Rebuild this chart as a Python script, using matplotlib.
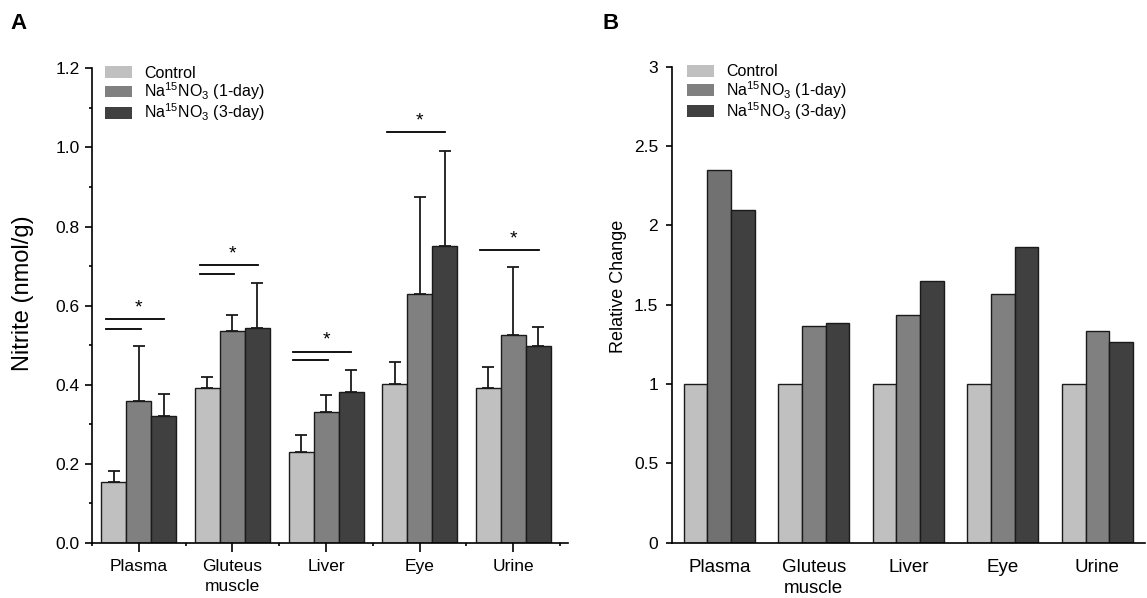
import numpy as np
import matplotlib
matplotlib.use('Agg')
import matplotlib.pyplot as plt
from matplotlib.ticker import MultipleLocator
from matplotlib.patches import Patch

plt.rcParams['font.family'] = ['Liberation Sans', 'DejaVu Sans']
plt.rcParams['mathtext.fontset'] = 'custom'
plt.rcParams['mathtext.rm'] = 'Liberation Sans'
plt.rcParams['mathtext.it'] = 'Liberation Sans:italic'
plt.rcParams['mathtext.bf'] = 'Liberation Sans:bold'

tissues = ['Plasma', 'Gluteus\nmuscle', 'Liver', 'Eye', 'Urine']
groups = ['Control', r'Na$^{\mathregular{15}}$NO$_{\mathregular{3}}$ (1-day)',
          r'Na$^{\mathregular{15}}$NO$_{\mathregular{3}}$ (3-day)']

# panel A: nitrite (nmol/g), mean and upper SD
ctrl_mean = [0.154, 0.392, 0.231, 0.402, 0.392]
ctrl_sd = [0.029, 0.027, 0.042, 0.055, 0.053]
day1_mean = [0.360, 0.537, 0.332, 0.630, 0.525]
day1_sd = [0.138, 0.039, 0.041, 0.244, 0.173]
day3_mean = [0.322, 0.543, 0.381, 0.750, 0.498]
day3_sd = [0.054, 0.113, 0.056, 0.242, 0.048]

# significance brackets: tissue index, upper line y, lower line y (None = single line)
sig_idx = [0, 1, 2, 3, 4]
sig_upper = [0.565, 0.702, 0.484, 1.038, 0.740]
sig_lower = [0.541, 0.681, 0.463, None, None]

# panel B: relative change
rel_ctrl = [1, 1, 1, 1, 1]
rel_day1 = [2.35, 1.368, 1.435, 1.567, 1.334]
rel_day3 = [2.096, 1.384, 1.647, 1.865, 1.265]

colors = ['#c0c0c0', '#808080', '#404040']

fig = plt.figure(figsize=(11.47, 5.98), dpi=100)

def legend_handles():
    return [Patch(facecolor=c, edgecolor='none') for c in colors]

# ---------------- panel A ----------------
axA = fig.add_axes([0.0802, 0.092, 0.4146, 0.7938])
x = np.arange(1, len(tissues) + 1)
w = 0.267
means = [ctrl_mean, day1_mean, day3_mean]
sds = [ctrl_sd, day1_sd, day3_sd]
for i in range(3):
    pos = x + (i - 1) * w
    axA.bar(pos, means[i], w, color=colors[i], edgecolor='#1a1a1a', linewidth=1.0, zorder=2)
    axA.errorbar(pos, means[i], yerr=[np.zeros(len(x)), sds[i]], fmt='none',
                 ecolor='#1a1a1a', elinewidth=1.3, capsize=4, capthick=1.3, zorder=3)

for k, idx in enumerate(sig_idx):
    c = x[idx]
    axA.plot([c - 0.35, c + 0.27], [sig_upper[k]] * 2, color='black', lw=1.3)
    if sig_lower[k] is not None:
        axA.plot([c - 0.35, c + 0.02], [sig_lower[k]] * 2, color='black', lw=1.3)
    axA.text(c, sig_upper[k] + 0.008, '*', ha='center', va='bottom', fontsize=14)

axA.set_xlim(0.5, 5.58)
axA.set_ylim(0, 1.2)
axA.set_xticks(x)
axA.set_xticklabels(tissues, fontsize=12.5, linespacing=1.45)
axA.xaxis.set_minor_locator(MultipleLocator(1, offset=0.5))
axA.set_yticks(np.arange(0, 1.21, 0.2))
axA.set_yticklabels(['%.1f' % v for v in np.arange(0, 1.21, 0.2)], fontsize=12.5)
axA.yaxis.set_minor_locator(MultipleLocator(0.1))
axA.tick_params(axis='x', which='major', length=6.5, width=1.2, pad=5)
axA.tick_params(axis='x', which='minor', length=2.5, width=1.2)
axA.tick_params(axis='y', which='major', length=5, width=1.2, pad=4)
axA.tick_params(axis='y', which='minor', length=2.5, width=1.2)
for s in ['top', 'right']:
    axA.spines[s].set_visible(False)
for s in ['left', 'bottom']:
    axA.spines[s].set_linewidth(1.2)
axA.set_ylabel('Nitrite (nmol/g)', fontsize=17)
axA.yaxis.set_label_coords(-0.122, 0.527)
axA.legend(legend_handles(), groups, loc='upper left', bbox_to_anchor=(0.028, 1.005),
           frameon=False, fontsize=11.5, handlelength=1.7, handleheight=0.75,
           handletextpad=0.75, labelspacing=-0.03, borderpad=0, borderaxespad=0)

# ---------------- panel B ----------------
axB = fig.add_axes([0.5859, 0.0925, 0.412, 0.796])
wB = 0.25
rel = [rel_ctrl, rel_day1, rel_day3]
for i in range(3):
    pos = x + (i - 1) * wB
    axB.bar(pos, rel[i], wB, color=colors[i], edgecolor='#1a1a1a', linewidth=1.0, zorder=2)
axB.containers[1][0].set_facecolor('#717171')

axB.set_xlim(0.5, 5.5)
axB.set_ylim(0, 3)
axB.set_xticks(x)
axB.set_xticklabels(tissues, fontsize=13.5, linespacing=1.3)
axB.set_yticks([0, 0.5, 1, 1.5, 2, 2.5, 3])
axB.set_yticklabels(['0', '0.5', '1', '1.5', '2', '2.5', '3'], fontsize=12.5)
axB.tick_params(axis='x', length=0, pad=12)
axB.tick_params(axis='y', length=4, width=1.2, pad=6)
for s in ['top', 'right']:
    axB.spines[s].set_visible(False)
for s in ['left', 'bottom']:
    axB.spines[s].set_linewidth(1.2)
axB.set_ylabel('Relative Change', fontsize=13)
axB.yaxis.set_label_coords(-0.095, 0.539)
axB.legend(legend_handles(), groups, loc='upper left', bbox_to_anchor=(0.032, 1.005),
           frameon=False, fontsize=11.5, handlelength=1.7, handleheight=0.75,
           handletextpad=0.75, labelspacing=-0.03, borderpad=0, borderaxespad=0)

fig.text(0.0165, 0.96, 'A', fontsize=16, fontweight='bold', ha='center', va='center')
fig.text(0.532, 0.96, 'B', fontsize=16, fontweight='bold', ha='center', va='center')

fig.savefig('out.png', dpi=100)
